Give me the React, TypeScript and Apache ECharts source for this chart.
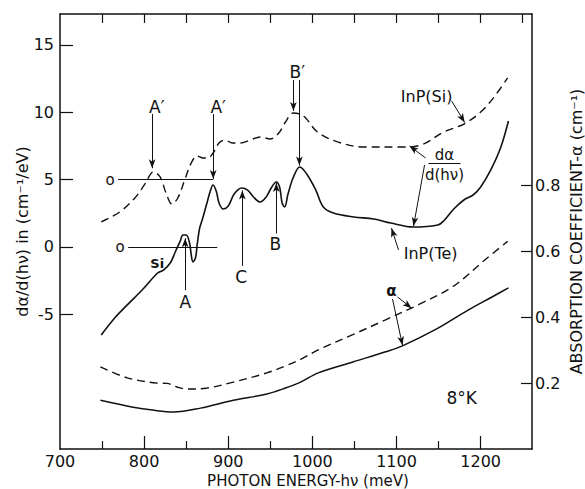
import React, { useEffect, useRef } from "react";
import * as echarts from "echarts";

// ---- data ----
const xTickLabels = [700, 800, 900, 1000, 1100, 1200];
const xMinorTicksBottom = [750, 850, 950, 1050, 1150];
const xTicksTop = [750, 800, 850, 900, 950, 1000, 1050, 1100, 1150, 1200, 1250];
const leftTicks = [-5, 0, 5, 10, 15];
const rightTicks = [0.2, 0.4, 0.6, 0.8];

// dα/d(hν), InP(Si) (dashed, left axis)
const siDerivE = [749, 771, 789, 801, 811, 819, 826, 833, 840, 849, 856, 863, 870, 876, 882, 889, 896, 905, 914, 926, 938, 950, 960, 968, 977, 985, 992, 1006, 1030, 1061, 1105, 1129, 1156, 1180, 1200, 1216, 1232];
const siDerivV = [1.86, 2.6, 3.64, 4.68, 5.57, 5.2, 4.01, 3.19, 3.64, 5.12, 6.24, 6.76, 6.61, 6.61, 6.98, 7.72, 7.94, 7.72, 7.72, 7.94, 8.17, 8.02, 8.46, 9.28, 9.95, 9.87, 9.58, 8.54, 7.8, 7.42, 7.42, 7.57, 8.54, 9.13, 10.02, 11.14, 12.55];

// dα/d(hν), InP(Te) (solid, left axis)
const teDerivE = [749, 766, 780, 799, 816, 823, 831, 837, 843, 846, 850, 854, 856, 858, 861, 863, 866, 869, 874, 879, 882, 886, 889, 894, 900, 907, 916, 923, 930, 938, 945, 951, 957, 961, 964, 967, 971, 977, 985, 994, 1004, 1013, 1025, 1049, 1073, 1093, 1120, 1149, 1156, 1168, 1180, 1191, 1200, 1212, 1224, 1233];
const teDerivV = [-6.53, -5.2, -4.3, -3.1, -1.93, -1.71, -1.19, -0.37, 0.45, 0.89, 0.89, 0.3, -0.59, -1.11, -0.82, 0.15, 1.41, 2.0, 3.12, 4.23, 4.6, 4.08, 3.27, 2.82, 3.04, 3.93, 4.38, 4.23, 3.71, 3.34, 3.71, 4.38, 4.83, 4.45, 3.27, 2.97, 3.93, 5.12, 5.94, 5.35, 4.23, 2.97, 2.52, 2.23, 2.08, 1.78, 1.48, 1.63, 1.93, 2.82, 3.49, 3.86, 4.45, 5.72, 7.42, 9.35];

// α, InP(Si) (dashed, right axis)
const siAlphaE = [748, 780, 816, 827, 839, 851, 875, 906, 946, 968, 986, 1007, 1048, 1087, 1126, 1167, 1206, 1232];
const siAlphaV = [0.249, 0.216, 0.2, 0.199, 0.188, 0.182, 0.185, 0.203, 0.231, 0.252, 0.272, 0.301, 0.347, 0.392, 0.438, 0.493, 0.576, 0.63];

// α, InP(Te) (solid, right axis)
const teAlphaE = [748, 787, 810, 835, 867, 906, 946, 968, 986, 1007, 1048, 1087, 1107, 1146, 1186, 1214, 1233];
const teAlphaV = [0.148, 0.127, 0.118, 0.112, 0.124, 0.148, 0.167, 0.185, 0.203, 0.231, 0.264, 0.295, 0.313, 0.362, 0.423, 0.462, 0.489];

const zip = (a: number[], b: number[]) => a.map((v, i) => [v, b[i]]);

// annotation arrows (meV, left-axis units): from -> to (arrowhead at "to")
const arrows = [
  [809.5, 9.87, 809.5, 5.85],
  [882.1, 9.87, 882.1, 5.05],
  [977.4, 12.4, 977.4, 10.1],
  [984.5, 12.4, 984.5, 6.05],
  [848.8, -3.2, 848.8, 0.65],
  [916.7, -1.4, 916.7, 4.2],
  [957.1, 1.0, 957.1, 4.75],
  [1165.5, 10.84, 1181.0, 9.25],
  [1134.5, 6.61, 1115.5, 7.5],
  [1133.3, 6.09, 1120.2, 1.55],
  [1102.4, -0.22, 1094.0, 1.4],
  [1101.2, -3.71, 1117.9, -4.55],
  [1095.2, -3.86, 1107.1, -7.3],
];
// plain segments: zero baselines and the fraction bar
const segments = [
  [769, 5, 882.1, 5],
  [781, 0, 886.9, 0],
  [1138, 6.24, 1176, 6.24],
];
const texts = [
  { t: "A′", x: 815, y: 10.4, s: 17, w: "normal" },
  { t: "A′", x: 888, y: 10.4, s: 17, w: "normal" },
  { t: "B′", x: 982, y: 13.0, s: 17, w: "normal" },
  { t: "o", x: 759.5, y: 5.0, s: 15, w: "normal" },
  { t: "o", x: 771.4, y: 0.0, s: 15, w: "normal" },
  { t: "Si", x: 815.5, y: -1.2, s: 13, w: "bold" },
  { t: "A", x: 848.8, y: -4.1, s: 17, w: "normal" },
  { t: "C", x: 915.5, y: -2.25, s: 17, w: "normal" },
  { t: "B", x: 956, y: 0.22, s: 17, w: "normal" },
  { t: "InP(Si)", x: 1135.7, y: 11.2, s: 16, w: "normal" },
  { t: "dα", x: 1157, y: 6.85, s: 15, w: "normal" },
  { t: "d(hν)", x: 1157, y: 5.35, s: 15, w: "normal" },
  { t: "InP(Te)", x: 1140.5, y: -0.52, s: 16, w: "normal" },
  { t: "α", x: 1094, y: -3.27, s: 15, w: "bold" },
  { t: "8°K", x: 1177.4, y: -11.2, s: 17, w: "normal" },
];

const FONT = "DejaVu Sans";
const BLACK = "#111";

export default function App() {
  const ref = useRef<HTMLDivElement>(null);
  useEffect(() => {
    document.body.style.margin = "0";
    const chart = echarts.init(ref.current!, null, { renderer: "svg" });
    const axisLine = { show: true, onZero: false, lineStyle: { color: BLACK, width: 1.5 } };
    const lineTick = { color: BLACK, width: 1.2 };
    const gridBox = { left: 60, right: 53, top: 14, bottom: 40, containLabel: false, outerBoundsMode: "none" };
    const option: any = {
      animation: false,
      backgroundColor: "#fff",
      textStyle: { fontFamily: FONT, color: BLACK },
      grid: [{ ...gridBox }, { ...gridBox }],
      xAxis: [
        {
          type: "value", gridIndex: 0, position: "bottom", min: 700, max: 1261, interval: 100,
          axisLine,
          axisTick: { show: true, inside: true, length: 13, customValues: [800, 900, 1000, 1100, 1200], lineStyle: lineTick },
          axisLabel: {
            show: true, customValues: xTickLabels, fontSize: 16, lineHeight: 17, fontFamily: FONT, color: BLACK, margin: 4,
            formatter: (v: number) => String(v),
          },
          splitLine: { show: false },
          name: "PHOTON ENERGY-hν (meV)", nameLocation: "middle", nameGap: 24, nameMoveOverlap: false,
          nameTextStyle: { fontSize: 15, lineHeight: 16, fontFamily: FONT, color: BLACK, padding: [0, 0, 0, 24] },
        },
        {
          type: "value", gridIndex: 0, position: "top", min: 700, max: 1261, interval: 100,
          axisLine,
          axisTick: { show: true, inside: true, length: 9, customValues: xTicksTop, lineStyle: lineTick },
          axisLabel: { show: false },
          splitLine: { show: false },
        },
        {
          type: "value", gridIndex: 1, position: "bottom", min: 700, max: 1261, interval: 100,
          axisLine: { show: false, onZero: false },
          axisTick: { show: true, inside: true, length: 8, customValues: xMinorTicksBottom, lineStyle: lineTick },
          axisLabel: { show: false },
          splitLine: { show: false },
        },
      ],
      yAxis: [
        {
          type: "value", gridIndex: 0, position: "left", min: -15, max: 17.3, interval: 5,
          axisLine,
          axisTick: { show: true, inside: true, length: 13, customValues: leftTicks, lineStyle: lineTick },
          axisLabel: { show: true, customValues: leftTicks, fontSize: 16, fontFamily: FONT, color: BLACK, margin: 6 },
          splitLine: { show: false },
          name: "dα/d(hν) in (cm⁻¹/eV)", nameLocation: "middle", nameGap: 30, nameRotate: 90, nameMoveOverlap: false,
          nameTextStyle: { fontSize: 16, fontFamily: FONT, color: BLACK },
        },
        {
          type: "value", gridIndex: 0, position: "right", min: 0, max: 1.32, interval: 0.2,
          axisLine,
          axisTick: { show: true, inside: true, length: 11, customValues: rightTicks, lineStyle: lineTick },
          axisLabel: {
            show: true, customValues: rightTicks, fontSize: 16, fontFamily: FONT, color: BLACK, margin: 3,
            formatter: (v: number) => v.toFixed(1),
          },
          splitLine: { show: false },
          name: "ABSORPTION COEFFICIENT-α (cm⁻¹)", nameLocation: "middle", nameGap: 36, nameRotate: 90, nameMoveOverlap: false,
          nameTextStyle: { fontSize: 16, fontFamily: FONT, color: BLACK },
        },
        { type: "value", gridIndex: 1, min: 0, max: 1, show: false, axisLine: { onZero: false } },
      ],
      series: [
        {
          name: "InP(Si) dα/d(hν)", type: "line", xAxisIndex: 0, yAxisIndex: 0,
          data: zip(siDerivE, siDerivV), smooth: 0.35, showSymbol: false, symbol: "none",
          lineStyle: { color: BLACK, width: 1.4, type: [8, 5] }, silent: true,
        },
        {
          name: "InP(Te) dα/d(hν)", type: "line", xAxisIndex: 0, yAxisIndex: 0,
          data: zip(teDerivE, teDerivV), smooth: 0.35, showSymbol: false, symbol: "none",
          lineStyle: { color: BLACK, width: 1.6 }, silent: true,
        },
        {
          name: "InP(Si) α", type: "line", xAxisIndex: 0, yAxisIndex: 1,
          data: zip(siAlphaE, siAlphaV), smooth: 0.35, showSymbol: false, symbol: "none",
          lineStyle: { color: BLACK, width: 1.4, type: [8, 5] }, silent: true,
        },
        {
          name: "InP(Te) α", type: "line", xAxisIndex: 0, yAxisIndex: 1,
          data: zip(teAlphaE, teAlphaV), smooth: 0.35, showSymbol: false, symbol: "none",
          lineStyle: { color: BLACK, width: 1.5 }, silent: true,
        },
        {
          name: "arrows", type: "line", xAxisIndex: 0, yAxisIndex: 0, data: [], silent: true,
          markLine: {
            silent: true, animation: false,
            symbol: ["none", "arrow"], symbolSize: [5, 9],
            label: { show: false },
            lineStyle: { color: BLACK, width: 1, type: "solid" },
            emphasis: { disabled: true },
            data: arrows.map((a) => [{ coord: [a[0], a[1]] }, { coord: [a[2], a[3]] }]),
          },
        },
        {
          name: "segments", type: "line", xAxisIndex: 0, yAxisIndex: 0, data: [], silent: true,
          markLine: {
            silent: true, animation: false,
            symbol: ["none", "none"],
            label: { show: false },
            lineStyle: { color: BLACK, width: 1, type: "solid" },
            emphasis: { disabled: true },
            data: segments.map((a) => [{ coord: [a[0], a[1]] }, { coord: [a[2], a[3]] }]),
          },
        },
      ],
    };
    chart.setOption(option);
    const graphic = texts.map((t) => {
      const p = chart.convertToPixel({ xAxisIndex: 0, yAxisIndex: 0 }, [t.x, t.y]) as number[];
      return {
        type: "text", x: p[0], y: p[1], silent: true,
        style: {
          text: t.t, fontSize: t.s, fontFamily: FONT, fontWeight: t.w, fill: BLACK,
          align: "center", verticalAlign: "middle",
        },
      };
    });
    chart.setOption({ graphic });
    return () => chart.dispose();
  }, []);
  return <div ref={ref} style={{ width: 585, height: 489 }} />;
}
